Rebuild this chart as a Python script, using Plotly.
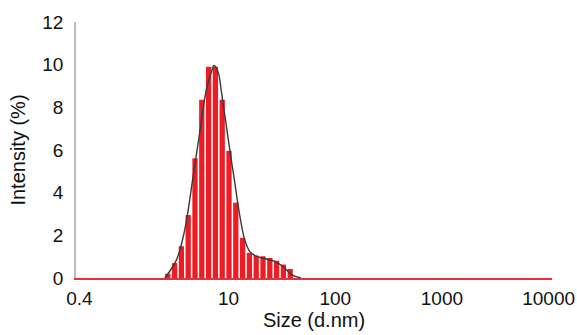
import plotly.graph_objects as go

# Malvern size classes (d.nm)
sizes = [0.4000, 0.4632, 0.5365, 0.6213, 0.7195, 0.8332, 0.9649, 1.117, 1.294, 1.499,
         1.736, 2.010, 2.328, 2.696, 3.122, 3.615, 4.187, 4.849, 5.615, 6.503,
         7.531, 8.721, 10.10, 11.70, 13.54, 15.69, 18.17, 21.04, 24.36, 28.21,
         32.67, 37.84, 43.82, 50.75, 58.77, 68.06, 78.82, 91.28, 105.7, 122.4,
         141.8, 164.2, 190.1, 220.2, 255.0, 295.3, 342.0, 396.1, 458.7, 531.2,
         615.1, 712.4, 825.0, 955.4, 1106, 1281, 1484, 1718, 1990, 2305,
         2669, 3091, 3580, 4145, 4801, 5560, 6439, 7456, 8635, 10000]

intensity = [0, 0, 0, 0, 0, 0, 0, 0, 0, 0,
             0, 0, 0, 0.2, 0.7, 1.49, 2.95, 5.61, 8.36, 9.9,
             9.9, 8.36, 5.96, 3.53, 1.88, 1.18, 1.05, 1.02, 0.94, 0.81,
             0.63, 0.42, 0, 0, 0, 0, 0, 0, 0, 0,
             0, 0, 0, 0, 0, 0, 0, 0, 0, 0,
             0, 0, 0, 0, 0, 0, 0, 0, 0, 0,
             0, 0, 0, 0, 0, 0, 0, 0, 0, 0]

fit_size = [2.53, 3.26, 3.89, 4.66, 5.37, 6.21, 6.90, 7.31, 7.99, 8.59, 9.25,
            10.25, 11.44, 12.77, 14.16, 15.8, 18.16, 22.6, 27.0, 32.2, 39.0, 47.8]
fit_intensity = [0, 0.86, 2.27, 4.78, 6.82, 8.86, 9.65, 9.96, 9.65, 8.7, 7.6,
                 6.04, 4.47, 2.9, 1.8, 1.25, 1.02, 0.89, 0.78, 0.55, 0.16, 0]

x_ticks = [0.4, 10, 100, 1000, 10000]
x_tick_text = ["0.4", "10", "100", "1000", "10000"]
y_ticks = [0, 2, 4, 6, 8, 10, 12]

size_labels = [str(s) for s in sizes]

font = "Liberation Sans, Arial, sans-serif"
FS = 19

fig = go.Figure()
# bars on a category axis (one slot per size class)
fig.add_trace(go.Bar(x=size_labels, y=intensity, xaxis="x",
                     marker=dict(color="#EE1C25", line=dict(width=0)),
                     showlegend=False))
# fitted curve on a log axis laid exactly over the category slots
fig.add_trace(go.Scatter(x=fit_size, y=fit_intensity, mode="lines", xaxis="x2",
                         line=dict(color="#3a3a3a", width=1.4, shape="spline"),
                         showlegend=False))

half_bin = (4.0 - (-0.39794)) / (len(sizes) - 1) / 2

fig.update_layout(
    width=577, height=335,
    margin=dict(l=76, r=25, t=22, b=57, autoexpand=False),
    paper_bgcolor="white", plot_bgcolor="white",
    bargap=0.22,
    font=dict(family=font, size=FS, color="#111111"),
    xaxis=dict(
        type="category", range=[-0.5, len(sizes) - 0.5],
        showticklabels=False, ticks="", showgrid=False, zeroline=False,
        showline=True, linecolor="#E8303A", linewidth=1.5,
    ),
    xaxis2=dict(
        type="log", overlaying="x", side="bottom",
        range=[-0.39794 - half_bin, 4.0 + half_bin],
        tickvals=x_ticks, ticktext=x_tick_text,
        showgrid=False, zeroline=False, showline=False,
        ticks="", ticklabelstandoff=7,
        title=dict(text="Size (d.nm)", standoff=2, font=dict(size=20)),
    ),
    yaxis=dict(
        range=[0, 12], tickvals=y_ticks,
        showgrid=False, zeroline=False,
        showline=True, linecolor="#BBBBBB", linewidth=1.5,
        ticks="", ticklabelstandoff=7,
        title=dict(text="Intensity (%)", standoff=11, font=dict(size=20)),
    ),
)

# remove the browser's default page margin so the figure fills the window
fig.write_html("out.html",
               config={"displayModeBar": False},
               post_script="document.body.style.margin='0';document.body.style.overflow='hidden';")
